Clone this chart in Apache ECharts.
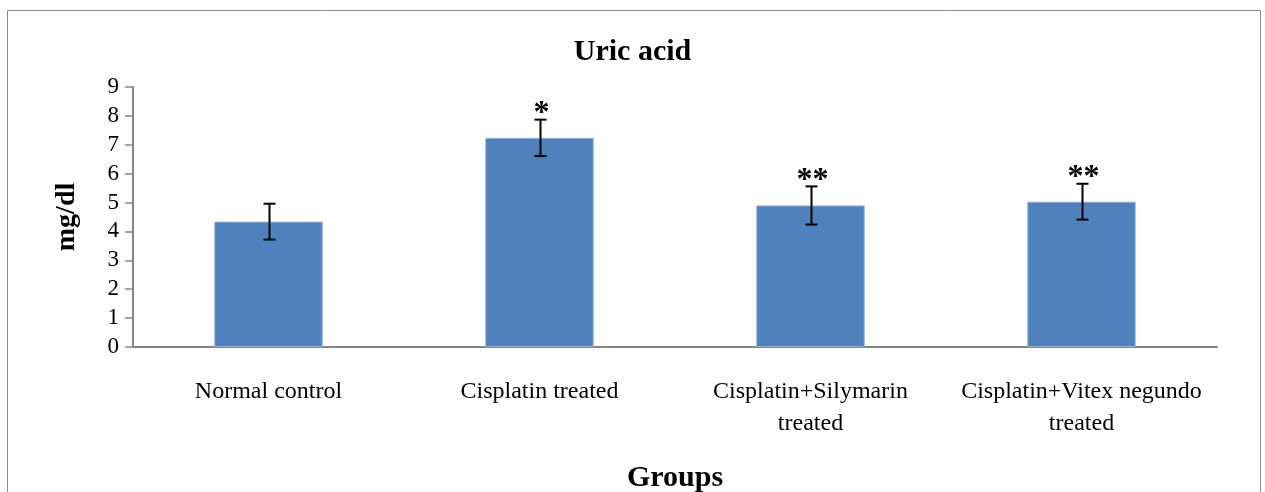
<!DOCTYPE html>
<html>
<head>
<meta charset="utf-8">
<script src="https://cdn.jsdelivr.net/npm/echarts@6/dist/echarts.min.js"></script>
<style>
  html, body { margin: 0; padding: 0; background: #fff; }
  #chart { width: 1265px; height: 492px; }
</style>
</head>
<body>
<div id="chart"></div>
<script>
// Serum uric acid per group (mean ± error), with significance marks
const categories = ['Normal control', 'Cisplatin treated', 'Cisplatin+Silymarin\ntreated', 'Cisplatin+Vitex negundo\ntreated'];
const means = [4.34, 7.24, 4.90, 5.03];
const errors = [0.62, 0.63, 0.66, 0.62];
const stars = ['', '*', '**', '**'];
const yTicks = [0, 1, 2, 3, 4, 5, 6, 7, 8, 9];

const serif = '"Liberation Serif", "Times New Roman", serif';
const chart = echarts.init(document.getElementById('chart'), null, { renderer: 'canvas' });

const errData = means.map((m, i) => [i, m - errors[i], m + errors[i], stars[i]]);

chart.setOption({
  animation: false,
  backgroundColor: '#ffffff',
  graphic: [{
    type: 'rect',
    shape: { x: 7.5, y: 10.5, width: 1253, height: 500 },
    style: { fill: 'none', stroke: '#8c8c8c', lineWidth: 1 },
    silent: true
  }],
  title: {
    text: 'Uric acid',
    left: 'center',
    top: 32,
    textStyle: { fontFamily: serif, fontWeight: 'bold', fontSize: 30, color: '#000' }
  },
  grid: { left: 133, right: 48, top: 87, bottom: 145, containLabel: false, outerBoundsMode: 'none' },
  xAxis: {
    type: 'category',
    data: categories,
    name: 'Groups',
    nameLocation: 'middle',
    nameGap: 116,
    nameTextStyle: { fontFamily: serif, fontWeight: 'bold', fontSize: 30, color: '#000' },
    axisLine: { lineStyle: { color: '#868686', width: 2 } },
    axisTick: { show: false },
    axisLabel: { fontFamily: serif, fontSize: 24, color: '#000', margin: 29, lineHeight: 32, interval: 0 }
  },
  yAxis: {
    type: 'value',
    min: yTicks[0],
    max: yTicks[yTicks.length - 1],
    interval: 1,
    name: 'mg/dl',
    nameLocation: 'middle',
    nameGap: 52,
    nameTextStyle: { fontFamily: serif, fontWeight: 'bold', fontSize: 28, color: '#000' },
    axisLine: { show: true, lineStyle: { color: '#868686', width: 2 } },
    axisTick: { show: true, inside: false, length: 8, lineStyle: { color: '#868686', width: 1.5 } },
    splitLine: { show: false },
    axisLabel: { fontFamily: serif, fontSize: 23, color: '#000', margin: 14 }
  },
  series: [
    {
      type: 'bar',
      data: means,
      barWidth: '40%',
      itemStyle: { color: '#4F81BD', borderColor: '#8fb0d8', borderWidth: 1 },
      z: 2
    },
    {
      type: 'custom',
      data: errData,
      z: 5,
      renderItem: function (params, api) {
        const x = api.value(0);
        const lo = api.coord([x, api.value(1)]);
        const hi = api.coord([x, api.value(2)]);
        const cx = Math.round(lo[0]) + 0.5;
        const half = 6;
        const st = { stroke: '#000', lineWidth: 2 };
        const children = [
          { type: 'line', shape: { x1: cx, y1: hi[1], x2: cx, y2: lo[1] }, style: st },
          { type: 'line', shape: { x1: cx - half, y1: hi[1], x2: cx + half, y2: hi[1] }, style: st },
          { type: 'line', shape: { x1: cx - half, y1: lo[1], x2: cx + half, y2: lo[1] }, style: st }
        ];
        const mark = api.value(3);
        if (mark) {
          children.push({
            type: 'text',
            style: {
              x: cx + 1, y: hi[1] + 10,
              text: mark,
              fontFamily: serif, fontWeight: 'bold', fontSize: 32,
              fill: '#000', align: 'center', verticalAlign: 'bottom'
            }
          });
        }
        return { type: 'group', children: children };
      }
    }
  ]
});
</script>
</body>
</html>
